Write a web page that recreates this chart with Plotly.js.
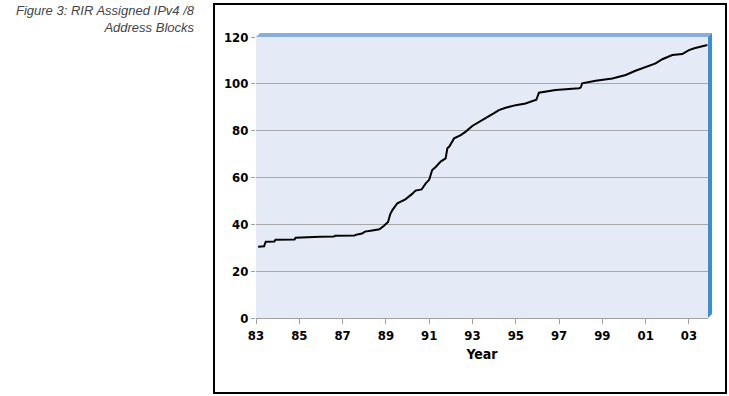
<!DOCTYPE html>
<html>
<head>
<meta charset="utf-8">
<script src="https://cdn.plot.ly/plotly-3.0.1.min.js"></script>
<style>
html,body{margin:0;padding:0;background:#fff;}
#chart{width:729px;height:396px;}
</style>
</head>
<body>
<div id="chart"></div>
<script>
// Year (decimal) and cumulative /8 blocks assigned
var years = [1983.10, 1983.37, 1983.45, 1983.85, 1983.90, 1984.78, 1984.83, 1985.90, 1985.95, 1986.60, 1986.65,
             1987.55, 1987.60, 1987.90, 1988.03, 1988.37,
             1988.70, 1988.90, 1989.10, 1989.20, 1989.30, 1989.53, 1989.90, 1990.20, 1990.37, 1990.65,
             1990.84, 1991.00, 1991.14, 1991.30, 1991.53, 1991.76, 1991.84, 1991.93, 1992.15, 1992.46,
             1992.69, 1992.99, 1993.30, 1993.50, 1993.76, 1994.00, 1994.22, 1994.53, 1995.00, 1995.45,
             1995.84, 1995.95, 1996.07, 1996.50, 1996.84, 1997.92, 1998.00, 1998.07, 1998.40, 1998.69, 1999.46, 1999.80,
             2000.08, 2000.53, 2000.84, 2001.15, 2001.46, 2001.77, 2002.23, 2002.69, 2003.00, 2003.25,
             2003.46, 2003.85];
var blocks = [30.4, 30.6, 32.6, 32.7, 33.4, 33.5, 34.3, 34.4, 34.7, 34.8, 35.1,
              35.2, 35.5, 36.1, 36.9, 37.4,
              37.9, 39.3, 41.0, 44.3, 46.1, 49.0, 50.7, 52.9, 54.4, 54.9,
              57.5, 59.0, 63.2, 64.5, 66.8, 68.2, 72.5, 73.2, 76.7, 78.1,
              79.6, 82.0, 83.8, 85.0, 86.2, 87.5, 88.8, 89.8, 90.9, 91.6,
              92.6, 93.2, 96.2, 96.9, 97.4, 98.1, 98.4, 100.2, 100.8, 101.3, 102.3, 103.0,
              103.8, 105.6, 106.6, 107.6, 108.7, 110.5, 112.3, 112.7, 114.4, 115.2,
              115.8, 116.6];
var xTickVals = [1983, 1985, 1987, 1989, 1991, 1993, 1995, 1997, 1999, 2001, 2003];
var xTickText = ['83', '85', '87', '89', '91', '93', '95', '97', '99', '01', '03'];
var yTickVals = [0, 20, 40, 60, 80, 100, 120];

var plotW = 452, plotH = 281;
var dx = 4 / plotW, dy = 4 / plotH;
var narrow = '"DejaVu Sans Condensed", "Liberation Sans Narrow", "Arial Narrow", sans-serif';
var tickFont = {family: narrow, size: 13, color: '#000', weight: 'bold'};

var trace = {
  x: years, y: blocks, type: 'scatter', mode: 'lines',
  line: {color: '#000', width: 2, shape: 'linear'},
  hoverinfo: 'skip'
};

var layout = {
  width: 729, height: 396,
  margin: {l: 256, r: 21, t: 37, b: 78, pad: 0},
  paper_bgcolor: '#fff',
  plot_bgcolor: '#e4eaf6',
  showlegend: false,
  xaxis: {
    range: [1983, 2003.88],
    tickvals: xTickVals, ticktext: xTickText,
    tickfont: tickFont,
    ticks: 'outside', ticklen: 5, tickcolor: '#a0a0a0', tickwidth: 1,
    showgrid: false, zeroline: false,
    showline: true, linecolor: '#a0a0a0', linewidth: 1,
    title: {text: 'Year', font: {family: narrow, size: 14, color: '#000', weight: 'bold'}, standoff: 7},
    fixedrange: true
  },
  yaxis: {
    range: [0, 120],
    tickvals: yTickVals,
    tickfont: tickFont,
    ticks: 'outside', ticklen: 4, tickcolor: '#a0a0a0', tickwidth: 1,
    showgrid: true, gridcolor: '#a8a8a8', gridwidth: 1,
    zeroline: false, showline: false,
    fixedrange: true
  },
  annotations: [{
    text: 'Figure 3: RIR Assigned IPv4 /8<br>Address Blocks',
    xref: 'paper', yref: 'paper',
    x: (197 - 256) / plotW, xanchor: 'right',
    y: (318 - 1) / plotH, yanchor: 'top',
    align: 'right', showarrow: false,
    font: {family: '"Liberation Sans", Arial, sans-serif', size: 13, color: '#444', style: 'italic'}
  }],
  shapes: [
    {type: 'path', xref: 'paper', yref: 'paper', layer: 'above',
     path: 'M 0,1 L 1,1 L ' + (1 + dx) + ',' + (1 + dy) + ' L ' + dx + ',' + (1 + dy) + ' Z',
     fillcolor: '#88aedb', line: {width: 0}},
    {type: 'path', xref: 'paper', yref: 'paper', layer: 'above',
     path: 'M 1,1 L ' + (1 + dx) + ',' + (1 + dy) + ' L ' + (1 + dx) + ',' + dy + ' L 1,0 Z',
     fillcolor: '#3a8ed3', line: {width: 0}},
    {type: 'rect', xref: 'paper', yref: 'paper', layer: 'above',
     x0: (214 - 256) / plotW, x1: (726 - 256) / plotW,
     y0: (318 - 393) / plotH, y1: (318 - 4) / plotH,
     line: {color: '#000', width: 2}, fillcolor: 'rgba(0,0,0,0)'}
  ]
};

Plotly.newPlot('chart', [trace], layout, {staticPlot: true, displayModeBar: false});
</script>
</body>
</html>
